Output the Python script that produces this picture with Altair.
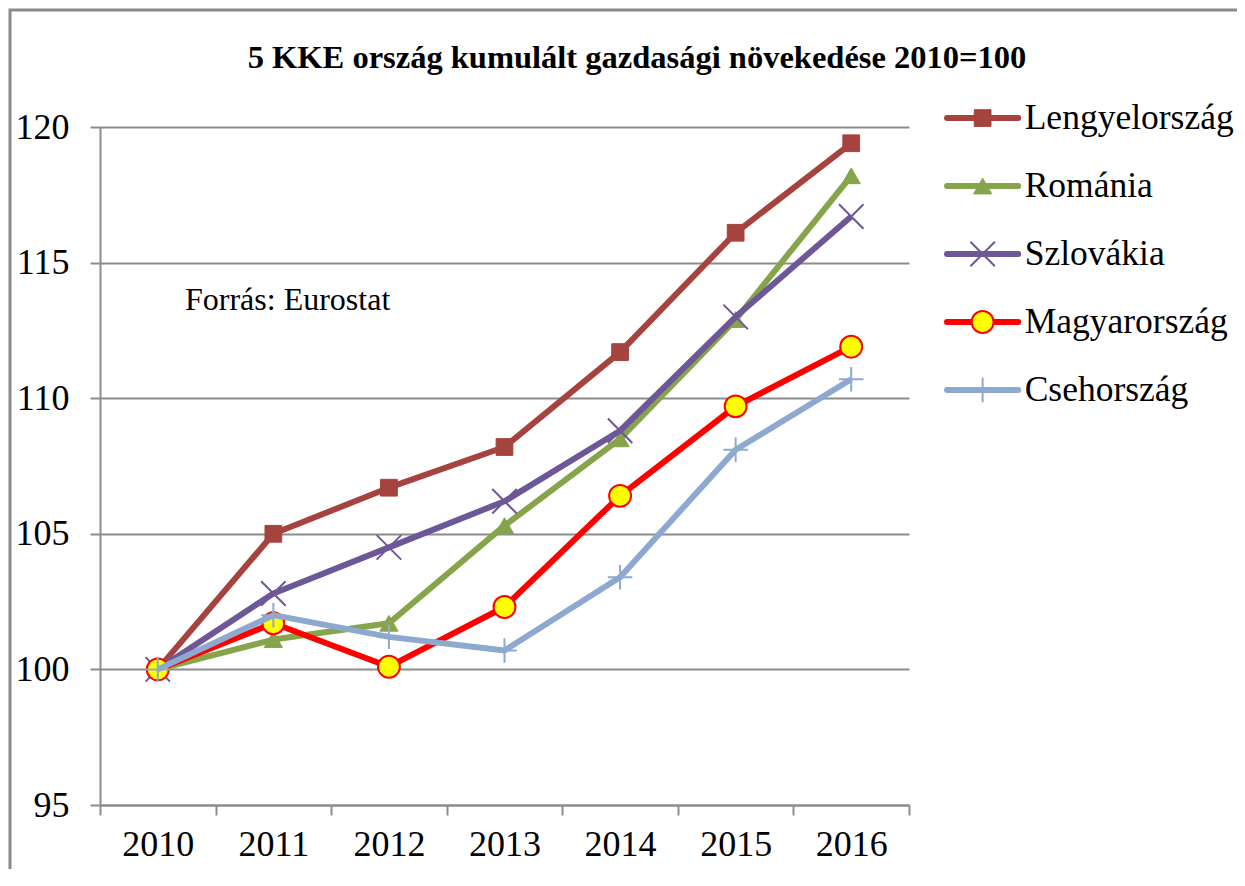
import altair as alt
import pandas as pd

# ---------------- data ----------------
years = ["2010", "2011", "2012", "2013", "2014", "2015", "2016"]
series_names = ["Lengyelország", "Románia", "Szlovákia", "Magyarország", "Csehország"]
lengyelorszag = [100.0, 105.0, 106.7, 108.2, 111.7, 116.1, 119.4]
romania = [100.0, 101.1, 101.7, 105.3, 108.5, 112.9, 118.2]
szlovakia = [100.0, 102.8, 104.5, 106.2, 108.8, 113.0, 116.7]
magyarorszag = [100.0, 101.7, 100.1, 102.3, 106.4, 109.7, 111.9]
csehorszag = [100.0, 102.0, 101.2, 100.7, 103.4, 108.1, 110.7]
y_ticks = [95, 100, 105, 110, 115, 120]
chart_title = "5 KKE ország kumulált gazdasági növekedése 2010=100"
source_note = "Forrás: Eurostat"

values_by_series = [lengyelorszag, romania, szlovakia, magyarorszag, csehorszag]
rows = []
for name, vals in zip(series_names, values_by_series):
    for yr, v in zip(years, vals):
        rows.append({"year": yr, "series": name, "value": v})
df = pd.DataFrame(rows)
legend_df = pd.DataFrame({"series": series_names, "i": list(range(len(series_names)))})
note_df = pd.DataFrame({"t": [source_note]})
title_df = pd.DataFrame({"t": [chart_title]})
frame_df = pd.DataFrame({"k": [0]})

# ---------------- styles ----------------
FONT = "Liberation Serif"
GRAY = "#8C8C8C"
X_PATH = "M-1,-1L1,1M-1,1L1,-1"
PLUS_PATH = "M-1,0L1,0M0,-1L0,1"
styles = {
    "Lengyelország": dict(color="#A6433E", shape="square", size=280, filled=True, fill="#A6433E", sw=1),
    "Románia": dict(color="#86A44A", shape="triangle-up", size=330, filled=True, fill="#86A44A", sw=1),
    "Szlovákia": dict(color="#6E5797", shape=X_PATH, size=600, filled=False, fill="transparent", sw=2),
    "Magyarország": dict(color="#FF0000", shape="circle", size=480, filled=True, fill="#FFFF00", sw=2),
    "Csehország": dict(color="#8EA9D0", shape=PLUS_PATH, size=600, filled=False, fill="transparent", sw=2),
}

W, H = 809, 678

x_axis = alt.Axis(
    tickBand="extent", grid=False, domainColor=GRAY, domainWidth=2,
    tickColor=GRAY, tickWidth=2, tickSize=10,
    labelFont=FONT, labelFontSize=36, labelColor="black", labelPadding=12,
    labelAngle=0, title=None,
)
y_axis = alt.Axis(
    values=y_ticks, grid=True, gridColor=GRAY, gridWidth=2,
    domainColor=GRAY, domainWidth=2, tickColor=GRAY, tickWidth=2, tickSize=10,
    labelFont=FONT, labelFontSize=36, labelColor="black", labelPadding=21,
    title=None,
)
x_enc = alt.X("year:O", sort=years,
              scale=alt.Scale(type="band", paddingInner=0, paddingOuter=0),
              axis=x_axis)
y_enc = alt.Y("value:Q", scale=alt.Scale(domain=[95, 120], nice=False, zero=False),
              axis=y_axis)

data_layers = []
for name in series_names:
    s = styles[name]
    base = alt.Chart(df).transform_filter(alt.datum.series == name)
    line = base.mark_line(color=s["color"], strokeWidth=6, strokeJoin="round").encode(x=x_enc, y=y_enc)
    pt = base.mark_point(shape=s["shape"], size=s["size"], filled=s["filled"],
                         fill=s["fill"], stroke=s["color"], strokeWidth=s["sw"],
                         opacity=1).encode(x=x_enc, y=y_enc)
    data_layers += [line, pt]
data_chart = alt.layer(*data_layers)

# ---------------- legend (own scales) ----------------
lx = alt.Scale(domain=[0, 1], nice=False, zero=False)
ly = alt.Scale(domain=[95, 120], nice=False, zero=False)
leg_base = alt.Chart(legend_df).transform_calculate(
    ly="120.33 - datum.i * 2.507", x0="1.047", x1="1.135", xm="1.091", xt="1.143"
)
legend_layers = []
for name in series_names:
    s = styles[name]
    b = leg_base.transform_filter(alt.datum.series == name)
    legend_layers.append(
        b.mark_rule(color=s["color"], strokeWidth=6, strokeCap="round").encode(
            x=alt.X("x0:Q", scale=lx, axis=None), x2="x1:Q",
            y=alt.Y("ly:Q", scale=ly, axis=None))
    )
    legend_layers.append(
        b.mark_point(shape=s["shape"], size=s["size"], filled=s["filled"],
                     fill=s["fill"], stroke=s["color"], strokeWidth=s["sw"],
                     opacity=1).encode(
            x=alt.X("xm:Q", scale=lx, axis=None),
            y=alt.Y("ly:Q", scale=ly, axis=None))
    )
legend_layers.append(
    leg_base.mark_text(align="left", baseline="middle", font=FONT, fontSize=35.5,
                       color="black").encode(
        x=alt.X("xt:Q", scale=lx, axis=None),
        y=alt.Y("ly:Q", scale=ly, axis=None),
        text="series:N")
)
legend_chart = alt.layer(*legend_layers)

note = alt.Chart(note_df).mark_text(align="left", baseline="middle", font=FONT,
                                    fontSize=32, color="black").encode(
    x=alt.value(85), y=alt.value(173), text="t:N")

title_mark = alt.Chart(title_df).mark_text(align="center", baseline="middle", font=FONT,
                                           fontSize=32.5, fontWeight="bold", color="black").encode(
    x=alt.value(537), y=alt.value(-69), text="t:N")

frame = alt.Chart(frame_df).mark_rect(filled=False, stroke="#8A8A8A", strokeWidth=3).encode(
    x=alt.value(-90), x2=alt.value(W + 500), y=alt.value(-117), y2=alt.value(H + 300))

chart = alt.layer(frame, data_chart, legend_chart, note, title_mark).resolve_scale(
    x="independent", y="independent"
).properties(
    width=W, height=H,
    autosize=alt.AutoSizeParams(type="none"),
    padding={"left": 92, "top": 119, "right": 328, "bottom": 64},
).configure_view(strokeWidth=0)

chart.save("out.html", embed_options={"renderer": "svg", "actions": False})
